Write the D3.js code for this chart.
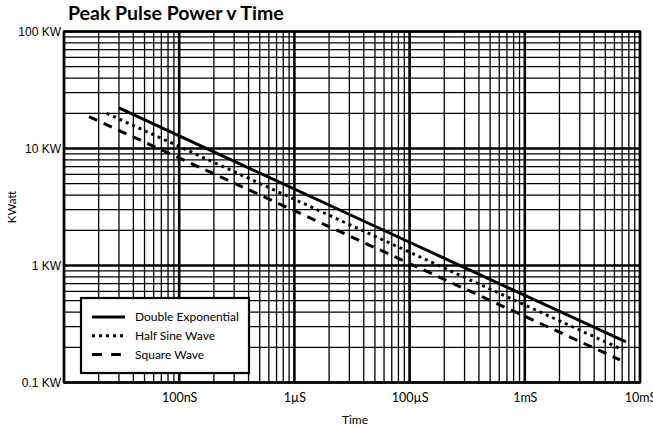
<!DOCTYPE html>
<html>
<head>
<meta charset="utf-8">
<script src="https://cdn.jsdelivr.net/npm/d3@7/dist/d3.min.js"></script>
<style>
  body { margin:0; background:#fff; }
  text { fill:#000; }
</style>
</head>
<body>
<svg id="chart" width="653" height="429"></svg>
<script>
// series names (legend order)
var seriesNames = ["Double Exponential", "Half Sine Wave", "Square Wave"];
// pulse time in seconds, power in KW
var doubleExpTime  = [3.0e-7, 1e-6, 1e-4, 7.55e-3];
var doubleExpPower = [22.2, 12.8, 1.58, 0.222];
var halfSineTime   = [2.35e-7, 1e-6, 1e-4, 7.1e-3];
var halfSinePower  = [20.0, 10.4, 1.30, 0.19];
var squareTime     = [1.65e-7, 1e-6, 1e-4, 6.7e-3];
var squarePower    = [18.7, 8.3, 1.04, 0.156];
// tick labels as printed on the chart
var xTickValues = [1e-6, 1e-5, 1e-4, 1e-3, 1e-2];
var xTickLabels = ["100nS", "1\u00B5S", "100\u00B5S", "1mS", "10mS"];
var yTickValues = [100, 10, 1, 0.1];
var yTickLabels = ["100 KW", "10 KW", "1 KW", "0.1 KW"];

var plotLeft = 64, plotRight = 640, plotTop = 31.5, plotBottom = 382.5;
var svg = d3.select("#chart");

var x = d3.scaleLog().domain([1e-7, 1e-2]).range([plotLeft, plotRight]);
var y = d3.scaleLog().domain([0.1, 100]).range([plotBottom, plotTop]);

function isDecade(v){
	var l = Math.log10(v);
	return Math.abs(l - Math.round(l)) < 1e-6;
}

//grid
var grid = svg.append("g");
grid.selectAll("line.vx")
	.data(x.ticks())
	.enter().append("line")
	.attr("x1", function(d){ return x(d); })
	.attr("x2", function(d){ return x(d); })
	.attr("y1", plotTop).attr("y2", plotBottom)
	.attr("stroke", "#000")
	.attr("stroke-width", function(d){ return isDecade(d) ? 2.6 : 1.3; });
grid.selectAll("line.hy")
	.data(y.ticks())
	.enter().append("line")
	.attr("y1", function(d){ return y(d); })
	.attr("y2", function(d){ return y(d); })
	.attr("x1", plotLeft).attr("x2", plotRight)
	.attr("stroke", "#000")
	.attr("stroke-width", function(d){ return isDecade(d) ? 2.6 : 1.3; });

svg.append("rect")
	.attr("x", plotLeft).attr("y", plotTop)
	.attr("width", plotRight - plotLeft).attr("height", plotBottom - plotTop)
	.attr("fill", "none").attr("stroke", "#000").attr("stroke-width", 2.2);

//axes (labels only, the grid does the lines)
var xAxis = d3.axisBottom(x).tickValues(xTickValues)
	.tickFormat(function(d, i){ return xTickLabels[i]; })
	.tickSize(0).tickPadding(11);
var gx = svg.append("g").attr("transform", "translate(0," + plotBottom + ")").call(xAxis);
gx.select(".domain").remove();
gx.selectAll("text").attr("font-family", "Lato").attr("font-size", "12.5px").attr("fill", "#000");

var yAxis = d3.axisLeft(y).tickValues(yTickValues)
	.tickFormat(function(d, i){ return yTickLabels[i]; })
	.tickSize(0).tickPadding(3);
var gy = svg.append("g").attr("transform", "translate(" + plotLeft + ",0)").call(yAxis);
gy.select(".domain").remove();
gy.selectAll("text").attr("font-family", "Liberation Sans").attr("font-size", "12px").attr("fill", "#000");

//series
var series = [
	{ name: seriesNames[0], t: doubleExpTime, p: doubleExpPower, dash: null },
	{ name: seriesNames[1], t: halfSineTime, p: halfSinePower, dash: "3,4" },
	{ name: seriesNames[2], t: squareTime, p: squarePower, dash: "9,7" }
];
var line = d3.line()
	.x(function(d){ return x(d[0]); })
	.y(function(d){ return y(d[1]); });

series.forEach(function(s){
	var pts = s.t.map(function(t, i){ return [t, s.p[i]]; });
	svg.append("path")
		.attr("d", line(pts))
		.attr("fill", "none")
		.attr("stroke", "#000")
		.attr("stroke-width", 3)
		.attr("stroke-dasharray", s.dash);
});

//legend
var lg = svg.append("g").attr("transform", "translate(81,298)");
lg.append("rect").attr("width", 168).attr("height", 75)
	.attr("fill", "#fff").attr("stroke", "#000").attr("stroke-width", 2.2);
series.forEach(function(s, i){
	var ly = 19 + i * 18.8;
	lg.append("line").attr("x1", 11).attr("x2", 44).attr("y1", ly).attr("y2", ly)
		.attr("stroke", "#000").attr("stroke-width", 3)
		.attr("stroke-dasharray", s.dash == "9,7" ? "10,9" : s.dash);
	lg.append("text").attr("x", 54).attr("y", ly + 4)
		.attr("font-family", "Lato").attr("font-size", "12px")
		.text(s.name);
});

//titles
svg.append("text").attr("x", 68).attr("y", 20)
	.attr("font-family", "Lato").attr("font-weight", "bold").attr("font-size", "19.5px")
	.text("Peak Pulse Power v Time");
svg.append("text").attr("x", 355).attr("y", 424).attr("text-anchor", "middle")
	.attr("font-family", "Lato").attr("font-size", "12px").text("Time");
svg.append("text").attr("transform", "translate(16,207) rotate(-90)")
	.attr("text-anchor", "middle")
	.attr("font-family", "Lato").attr("font-size", "11.5px").text("KWatt");
</script>
</body>
</html>
